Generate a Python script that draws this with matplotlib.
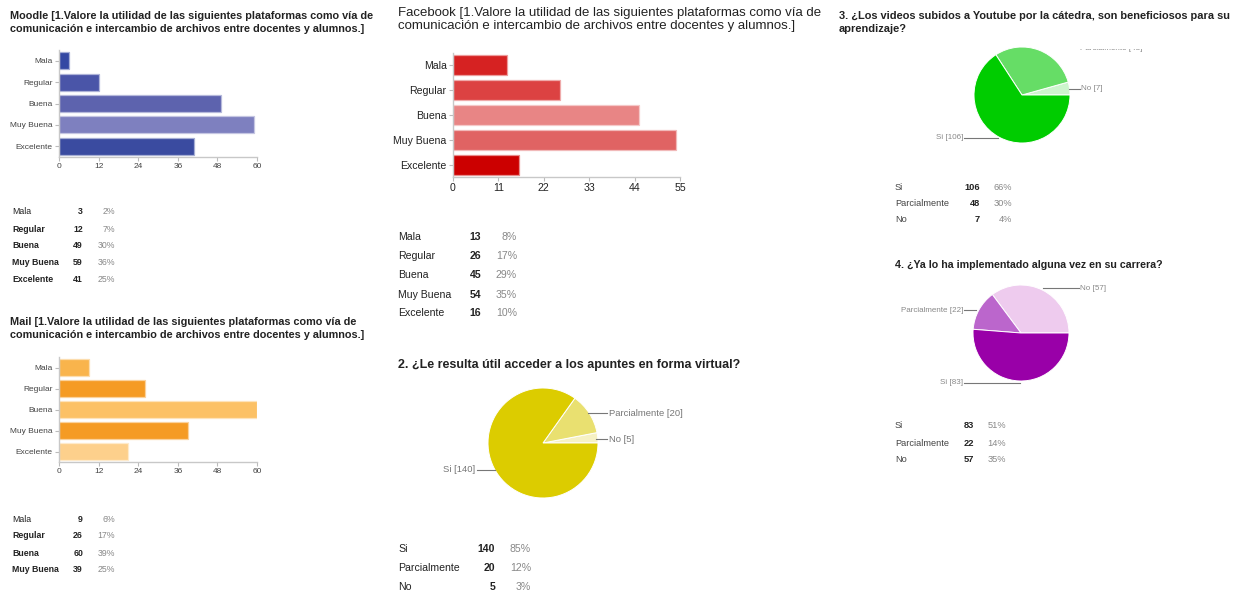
import numpy as np
import matplotlib
matplotlib.use("Agg")
import matplotlib.pyplot as plt
from matplotlib.lines import Line2D
from matplotlib.transforms import Bbox, TransformedBbox
from matplotlib.colors import to_rgb

# ---------------- data ----------------
cats = ["Mala", "Regular", "Buena", "Muy Buena", "Excelente"]
moodle_vals = [3, 12, 49, 59, 41]
mail_vals = [9, 26, 60, 39, 21]
facebook_vals = [13, 26, 45, 54, 16]

moodle_ticks = [0, 12, 24, 36, 48, 60]
mail_ticks = [0, 12, 24, 36, 48, 60]
facebook_ticks = [0, 11, 22, 33, 44, 55]

pie_cats = ["Si", "Parcialmente", "No"]
q2_vals = [140, 20, 5]
q3_vals = [106, 48, 7]
q4_vals = [83, 22, 57]

moodle_title = "Moodle [1.Valore la utilidad de las siguientes plataformas como vía de\ncomunicación e intercambio de archivos entre docentes y alumnos.]"
mail_title = "Mail [1.Valore la utilidad de las siguientes plataformas como vía de\ncomunicación e intercambio de archivos entre docentes y alumnos.]"
facebook_title = "Facebook [1.Valore la utilidad de las siguientes plataformas como vía de\ncomunicación e intercambio de archivos entre docentes y alumnos.]"
q2_title = "2. ¿Le resulta útil acceder a los apuntes en forma virtual?"
q3_title = "3. ¿Los videos subidos a Youtube por la cátedra, son beneficiosos para su\naprendizaje?"
q4_title = "4. ¿Ya lo ha implementado alguna vez en su carrera?"

# ---------------- colours ----------------
moodle_colors = ["#3348a3", "#4a55a8", "#5d63ae", "#7e80bf", "#3a4ba0"]
mail_colors = ["#f9b44c", "#f59b24", "#fcc165", "#f59b24", "#fdd08c"]
facebook_colors = ["#d62222", "#dc4242", "#e88585", "#e06363", "#cc0000"]
q2_colors = ["#dccc00", "#e9e070", "#f6f1c4"]
q3_colors = ["#00cc00", "#66dd66", "#cdf5cd"]
q4_colors = ["#9900a8", "#bb66cc", "#eecbee"]

W, H = 1238, 594
FONT = "Liberation Sans"
plt.rcParams["font.family"] = [FONT, "DejaVu Sans"]

fig = plt.figure(figsize=(W / 100, H / 100), dpi=100)
fig.patch.set_facecolor("white")


def add_ax(x0, y0, x1, y1):
    return fig.add_axes([x0 / W, 1 - y1 / H, (x1 - x0) / W, (y1 - y0) / H])


def txt(x, y, s, **kw):
    kw.setdefault("va", "center")
    return fig.text(x / W, 1 - y / H, s, **kw)


def line(xs, ys, **kw):
    fig.add_artist(Line2D([x / W for x in xs], [1 - y / H for y in ys],
                          transform=fig.transFigure, **kw))


def lighten(c, f=0.5):
    r, g, b = to_rgb(c)
    return (r + (1 - r) * f, g + (1 - g) * f, b + (1 - b) * f)


def bar_chart(box, values, colors, ticks, fs, labcolor):
    ax = add_ax(*box)
    y = np.arange(len(cats))
    ax.barh(y, values, height=0.8, color=colors,
            edgecolor=[lighten(c, 0.55) for c in colors], linewidth=0.9)
    ax.set_ylim(len(cats) - 0.5, -0.5)
    ax.set_xlim(ticks[0], ticks[-1])
    ax.set_xticks(ticks)
    ax.set_yticks(y)
    ax.set_yticklabels(cats)
    for s in ["top", "right"]:
        ax.spines[s].set_visible(False)
    for s in ["left", "bottom"]:
        ax.spines[s].set_color("#c8c8c8")
        ax.spines[s].set_linewidth(1.0)
    ax.tick_params(axis="both", length=3, width=0.8, color="#bbbbbb",
                   labelsize=fs, labelcolor=labcolor, pad=1.5)
    ax.set_facecolor("none")
    return ax


def table(rows_y, labels, values, total, x_lab, x_val, x_pct, fs, bold_labels,
          lab_color="#222222"):
    for i, (yy, lab, v) in enumerate(zip(rows_y, labels, values)):
        txt(x_lab, yy, lab, fontsize=fs, color=lab_color, ha="left",
            fontweight="bold" if bold_labels[i] else "normal")
        txt(x_val, yy, str(v), fontsize=fs, color="#222222", ha="right", fontweight="bold")
        txt(x_pct, yy, f"{round(100 * v / total)}%", fontsize=fs, color="#888888", ha="right")


def pie_chart(cx, cy, R, values, colors, clip_top=None):
    pad = 3
    top = cy - R - pad if clip_top is None else clip_top
    ax = add_ax(cx - R - pad, top, cx + R + pad, cy + R + pad)
    ax.pie(values[::-1], colors=colors[::-1], startangle=0, counterclock=True,
           radius=1, wedgeprops=dict(edgecolor="white", linewidth=0.7))
    ax.set_xlim(-(R + pad) / R, (R + pad) / R)
    ax.set_ylim(-(R + pad) / R, (cy - top) / R)
    ax.set_aspect("auto")
    ax.axis("off")
    return ax


# ---------------- Moodle ----------------
txt(10, 11, moodle_title, fontsize=7.8, fontweight="bold", color="#222222",
    va="top", ha="left", linespacing=1.35)
bar_chart((59, 50, 257, 157), moodle_vals, moodle_colors, moodle_ticks, 6.0, "#444444")
table([211, 229, 246, 263, 279], cats, moodle_vals, sum(moodle_vals), 12, 83, 115, 6.3,
      [False, True, True, True, True])

# ---------------- Mail ----------------
txt(10, 317, mail_title, fontsize=7.8, fontweight="bold", color="#222222",
    va="top", ha="left", linespacing=1.35)
bar_chart((59, 357, 257, 462), mail_vals, mail_colors, mail_ticks, 6.0, "#444444")
table([520, 536, 553, 570], cats[:4], mail_vals[:4], sum(mail_vals), 12, 83, 115, 6.3,
      [False, True, True, True])

# ---------------- Facebook ----------------
txt(398, 7, facebook_title, fontsize=9.5, color="#222222", va="top", ha="left",
    linespacing=1.15)
bar_chart((453, 53, 680, 177), facebook_vals, facebook_colors, facebook_ticks, 7.6, "#222222")
table([237, 256, 275, 295, 313], cats, facebook_vals, sum(facebook_vals), 398, 481, 517, 7.6,
      [False] * 5)

# ---------------- Q2 pie ----------------
txt(398, 365, q2_title, fontsize=9.0, fontweight="bold", color="#222222", ha="left")
pie_chart(543, 443, 55, q2_vals, q2_colors)
lc = "#777777"
line([588, 607], [413, 413], color=lc, lw=0.8)
txt(609, 413, f"{pie_cats[1]} [{q2_vals[1]}]", fontsize=6.8, color="#777777", ha="left")
line([596, 607], [439, 439], color=lc, lw=0.8)
txt(609, 439, f"{pie_cats[2]} [{q2_vals[2]}]", fontsize=6.8, color="#777777", ha="left")
line([477, 495], [470, 470], color=lc, lw=0.8)
txt(475, 470, f"{pie_cats[0]} [{q2_vals[0]}]", fontsize=6.8, color="#777777", ha="right")
table([549, 568, 587], pie_cats, q2_vals, sum(q2_vals), 398, 495, 531, 7.6, [False] * 3)

# ---------------- Q3 pie ----------------
txt(839, 11, q3_title, fontsize=7.9, fontweight="bold", color="#222222",
    va="top", ha="left", linespacing=1.35)
pie_chart(1022, 95, 48, q3_vals, q3_colors, clip_top=49)
line([1069, 1080], [89, 89], color=lc, lw=0.8)
txt(1081, 89, f"{pie_cats[2]} [{q3_vals[2]}]", fontsize=5.8, color="#888888", ha="left")
line([964, 998], [138, 138], color=lc, lw=0.8)
txt(963, 138, f"{pie_cats[0]} [{q3_vals[0]}]", fontsize=5.8, color="#888888", ha="right")
t = txt(1080, 49, f"{pie_cats[1]} [{q3_vals[1]}]", fontsize=5.8, color="#888888", ha="left")
t.set_clip_box(TransformedBbox(Bbox.from_extents(0, 0, 1, 1 - 49 / H), fig.transFigure))
t.set_clip_on(True)
table([188, 204, 220], pie_cats, q3_vals, sum(q3_vals), 895, 980, 1012, 6.7, [False] * 3, "#444444")

# ---------------- Q4 pie ----------------
txt(895, 265, q4_title, fontsize=7.7, fontweight="bold", color="#222222", ha="left")
pie_chart(1021, 333, 48, q4_vals, q4_colors)
line([1043, 1079], [288, 288], color=lc, lw=0.8)
txt(1080, 288, f"{pie_cats[2]} [{q4_vals[2]}]", fontsize=5.8, color="#888888", ha="left")
line([964, 976], [310, 310], color=lc, lw=0.8)
txt(963, 310, f"{pie_cats[1]} [{q4_vals[1]}]", fontsize=5.8, color="#888888", ha="right")
line([964, 1020], [383, 383], color=lc, lw=0.8)
txt(963, 383, f"{pie_cats[0]} [{q4_vals[0]}]", fontsize=5.8, color="#888888", ha="right")
table([426, 443, 459], pie_cats, q4_vals, sum(q4_vals), 895, 974, 1006, 6.7, [False] * 3, "#444444")

fig.savefig("out.png", dpi=100, facecolor="white")
